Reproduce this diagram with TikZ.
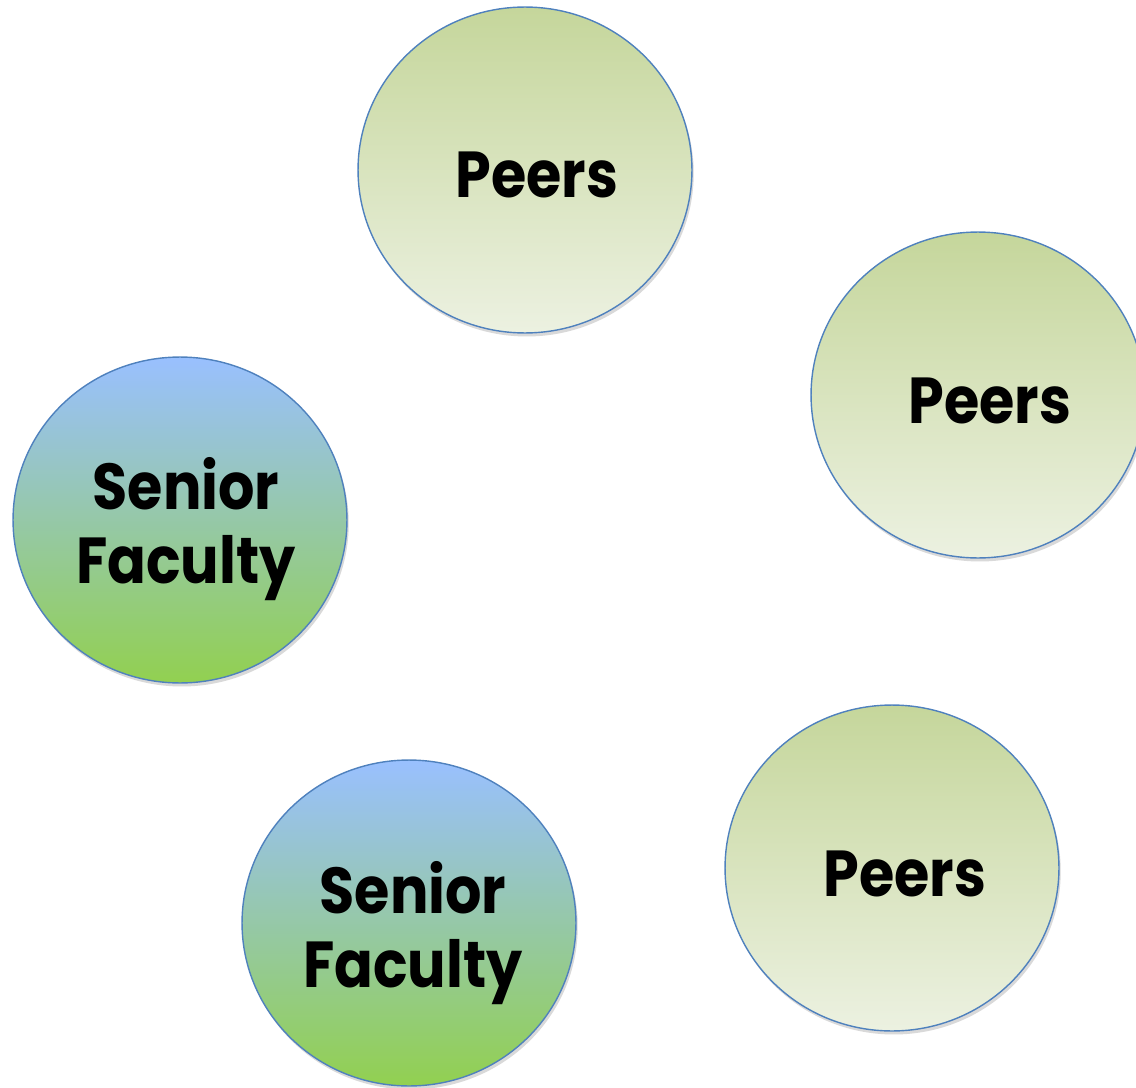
\documentclass[tikz,border=0pt]{standalone}
\usepackage{fontspec}
\setmainfont{Poppins}
\newfontfamily\bubblefont[FakeStretch=0.88]{Poppins}
\usepackage{tikz}
\usetikzlibrary{positioning, shapes.geometric, shadows, calc}

\definecolor{rimblue}{RGB}{79,129,189}
\definecolor{peertop}{RGB}{197,214,155}
\definecolor{peerbot}{RGB}{236,241,225}
\definecolor{seniortop}{RGB}{153,192,255}
\definecolor{seniormid}{RGB}{150,200,196}
\definecolor{seniorbot}{RGB}{146,208,80}

\begin{document}
\begin{tikzpicture}[x=0.02cm, y=-0.02cm,
  bubble/.style={ellipse, draw=rimblue, line width=0.8pt, minimum width=6.68cm,
    minimum height=6.52cm, inner sep=0pt,
    drop shadow={shadow xshift=1pt, shadow yshift=-2pt, opacity=0.25, fill=black!60}},
  peer node/.style={bubble, top color=peertop, bottom color=peerbot},
  senior node/.style={bubble, top color=seniortop, middle color=seniormid, bottom color=seniorbot},
  main text/.style={anchor=base, align=center, font=\bubblefont\fontsize{37}{42}\selectfont\bfseries}]

\useasboundingbox (0,0) rectangle (1136,1088);

\node[peer node] (P1) at (525,170) {};
\node[peer node] (P2) at (978,395) {};
\node[peer node] (P3) at (892,868) {};
\node[senior node] (S1) at (180,520) {};
\node[senior node] (S2) at (409,923) {};

% text sits a bit right of the centre
\node[main text] (p1text) at ($(P1.center)+(12,27)$) {Peers};
\node[main text] (p2text) at ($(P2.center)+(12,28)$) {Peers};
\node[main text] (p3text) at ($(P3.center)+(13,28)$) {Peers};
\node[main text] (s1text) at ($(S1.center)+(6,63)$) {Senior\\Faculty};
\node[main text] (s2text) at ($(S2.center)+(4,64)$) {Senior\\Faculty};

\end{tikzpicture}
\end{document}
